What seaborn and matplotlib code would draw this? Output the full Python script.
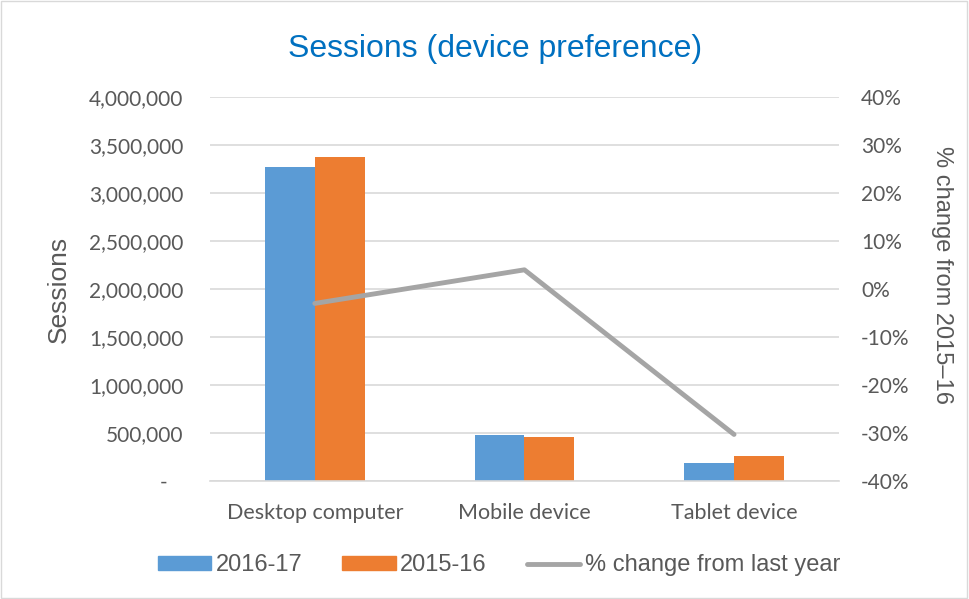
#%%
# Sessions by device: bars for two years + % change line on a twin axis

import pandas as pd
import seaborn as sns
from matplotlib import pyplot as plt
from matplotlib.ticker import FuncFormatter, MultipleLocator
from matplotlib.lines import Line2D
from matplotlib.patches import Patch

devices = ["Desktop computer", "Mobile device", "Tablet device"]
years = ["2016-17", "2015-16"]
sessions_1617 = [3270000, 480000, 184000]
sessions_1516 = [3375000, 460000, 264000]
pct_change = [-3.0, 4.0, -30.3]

blue = "#5B9BD5"
orange = "#ED7D31"
grey_line = "#A5A5A5"
text_col = "#595959"
grid_col = "#D9D9D9"

df = pd.DataFrame({
    "device": devices * 2,
    "year": [years[0]] * 3 + [years[1]] * 3,
    "sessions": sessions_1617 + sessions_1516,
})
line_df = pd.DataFrame({"device": devices, "pct": pct_change})

sns.set_style("white")
plt.rcParams['font.family'] = ['Liberation Sans', 'DejaVu Sans']
tick_font = ["Lato", "DejaVu Sans"]

fig = plt.figure(figsize=(9.69, 5.99), dpi=100)
ax = fig.add_axes([0.2167, 0.197, 0.649, 0.641])

sns.barplot(data=df, x="device", y="sessions", hue="year", order=devices, hue_order=years,
            palette=[blue, orange], width=0.476, saturation=1, ax=ax, legend=False,
            edgecolor="none", err_kws={'linewidth': 0})

ax.set_ylim(0, 4000000)
ax.yaxis.set_major_locator(MultipleLocator(500000))
ax.yaxis.set_major_formatter(FuncFormatter(lambda v, p: "-   " if v == 0 else f"{int(v):,}"))
ax.set_xlim(-0.5, 2.5)
ax.grid(axis="y", color=grid_col, linewidth=1.2)
ax.set_axisbelow(True)
for s in ["left", "right", "top"]:
    ax.spines[s].set_visible(False)
ax.spines["bottom"].set_color(grid_col)
ax.spines["bottom"].set_linewidth(1.2)
ax.tick_params(axis="both", length=0, colors=text_col)
ax.tick_params(axis="y", pad=19, labelsize=15)
ax.tick_params(axis="x", pad=16, labelsize=15.5)
for lab in ax.get_xticklabels() + ax.get_yticklabels():
    lab.set_family(tick_font)
ax.set_xlabel("")
ax.set_ylabel("Sessions", fontsize=19, color=text_col, labelpad=13)

ax2 = ax.twinx()
sns.lineplot(data=line_df, x="device", y="pct", color=grey_line, linewidth=3.5, sort=False, ax=ax2,
             solid_capstyle="round")
ax2.set_ylim(-40, 40)
ax2.yaxis.set_major_locator(MultipleLocator(10))
ax2.yaxis.set_major_formatter(FuncFormatter(lambda v, p: f"{v:.0f}%"))
ax2.set_xlim(-0.5, 2.5)
for s in ax2.spines.values():
    s.set_visible(False)
ax2.tick_params(axis="y", length=0, colors=text_col, labelsize=15, pad=16)
for lab in ax2.get_yticklabels():
    lab.set_family(tick_font)
ax2.set_xlabel("")
ax2.set_ylabel("% change from 2015\u201316", fontsize=17, color=text_col, rotation=270)
ax2.yaxis.set_label_coords(1.181, 0.536)

fig.suptitle("Sessions (device preference)", x=0.511, y=0.918, va="center", fontsize=23,
             color="#0070C0")

handles = [Patch(color=blue, label=years[0]), Patch(color=orange, label=years[1]),
           Line2D([0], [0], color=grey_line, linewidth=3.5, label="% change from last year",
                  solid_capstyle="round")]
fig.legend(handles=handles, loc="center", bbox_to_anchor=(0.515, 0.056), ncol=3, frameon=False,
           fontsize=17, labelcolor=text_col, handlelength=2.25, handletextpad=0.2,
           columnspacing=1.7, handleheight=0.53)

# light chart border
fig.patches.append(plt.Rectangle((0.001, 0.002), 0.997, 0.996, transform=fig.transFigure,
                                 fill=False, edgecolor=grid_col, linewidth=1))

plt.savefig("out.png", dpi=100)
